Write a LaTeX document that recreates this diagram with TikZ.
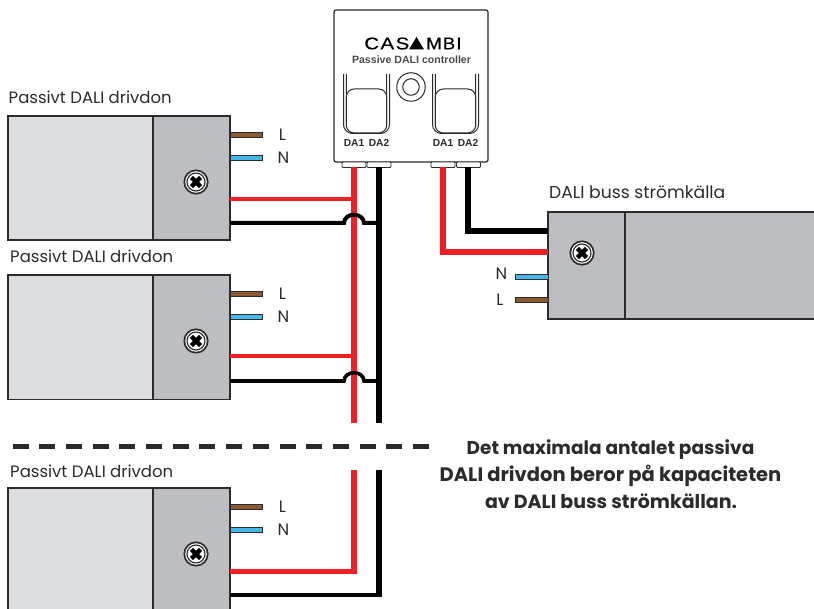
\documentclass[tikz,border=0pt]{standalone}
\usepackage{fontspec}
\setmainfont{Poppins}
\newfontfamily\arialf{Liberation Sans}
\definecolor{boxg}{HTML}{BDBEC1}
\definecolor{boxl}{HTML}{DCDDDF}
\definecolor{wred}{HTML}{EE2027}
\definecolor{wbrown}{HTML}{8C5A2E}
\definecolor{wblue}{HTML}{45B8E8}
\definecolor{ink}{HTML}{2B2B2D}
\usetikzlibrary{calc}
\tikzset{
 panel/.style={draw=ink,line width=1.2pt,inner sep=0pt,outer sep=0pt,anchor=north west},
 stub/.style={draw=ink,line width=1pt,inner sep=0pt,outer sep=0pt,minimum height=4.5pt,anchor=west},
 redw/.style={wred,line width=5.2pt},
 redh/.style={wred,line width=4.2pt},
 blkw/.style={black,line width=5.2pt},
 blkh/.style={black,line width=4.2pt},
 lab/.style={font=\fontsize{16.5}{18}\selectfont,text=ink,inner sep=0pt},
 title/.style={font=\fontsize{16.5}{18}\selectfont,text=ink,inner sep=0pt,anchor=base west},
 daf/.style={font=\arialf\bfseries\fontsize{10.2}{12}\selectfont,text=ink,inner sep=0pt},
 note/.style={text=ink,inner sep=0pt,anchor=base},
 tab/.style={draw=ink,line width=0.8pt,fill=white,inner sep=0pt,outer sep=0pt,anchor=north west,minimum height=5.5pt,rounded corners=1pt},
}
\newcommand{\screwat}[1]{%
 \fill[ink] (#1) circle[radius=12.6pt];
 \fill[white!90!boxg] (#1) circle[radius=10.8pt];
 \draw[ink,line width=1.1pt] (#1) circle[radius=9pt];
 \draw[black,line width=4.4pt] ($(#1)+(-4.6pt,-4.6pt)$)--($(#1)+(4.6pt,4.6pt)$) ($(#1)+(-4.6pt,4.6pt)$)--($(#1)+(4.6pt,-4.6pt)$);
}
\newcommand{\drivernodes}[7]{% name, x0, ytop, height, Lpos, Npos, screwy
 \node[panel,fill=boxl,minimum width=145pt,minimum height=#4pt] (#1a) at (#2,#3) {};
 \node[panel,fill=boxg,minimum width=77pt,minimum height=#4pt] (#1b) at (153,#3) {};
 \node[stub,fill=wbrown,minimum width=32pt] (#1L) at (230,#5) {};
 \node[stub,fill=wblue,minimum width=32pt] (#1N) at (230,#6) {};
 \node[lab] (#1Lt) at (282.5,#5) {L};
 \node[lab] (#1Nt) at (283.5,#6) {N};
 \coordinate (#1s) at (196,#7);
 \screwat{#1s}
}
\begin{document}
\begin{tikzpicture}[x=1pt,y=-1pt]
\useasboundingbox (0,0) rectangle (814,609);
\clip (0,0) rectangle (814,609);

% drivers
\drivernodes{da}{8}{116}{124}{135}{158}{182}
\drivernodes{db}{8}{275}{124.5}{294}{317}{341}
\drivernodes{dc}{8}{488}{130}{507}{530}{554}
\node[title] (ta) at (8.5,104) {Passivt DALI drivdon};
\node[title] (tb) at (10,263) {Passivt DALI drivdon};
\node[title] (tc) at (10,477) {Passivt DALI drivdon};

% controller
\node[panel,fill=white,rounded corners=2pt,minimum width=154pt,minimum height=152pt] (ctrl) at (334,10) {};
\node[tab,minimum width=24pt] (t1) at (342,162) {};
\node[tab,minimum width=24pt] (t2) at (367,162) {};
\node[tab,minimum width=24pt] (t3) at (431,162) {};
\node[tab,minimum width=24pt] (t4) at (456.5,162) {};
\node[font=\arialf\fontsize{17}{19}\selectfont,text=black,inner sep=0pt,anchor=east] (logoa) at (409.5,43.5) {\addfontfeature{LetterSpace=9,FakeStretch=1.2,FakeBold=0.4}CAS};
\node[font=\arialf\fontsize{17}{19}\selectfont,text=black,inner sep=0pt,anchor=west] (logob) at (426,43.5) {\addfontfeature{LetterSpace=6,FakeStretch=1.1,FakeBold=0.4}MBI};
\fill[black] (416.5,37) -- (409,49.5) -- (424,49.5) -- cycle;
\node[font=\arialf\bfseries\fontsize{10.6}{12}\selectfont,text=ink!85,inner sep=0pt] (ptxt) at (411.5,59.5) {Passive DALI controller};
\node[draw=ink,line width=1pt,circle,minimum size=28.5pt,inner sep=0pt] (dial) at (411,87) {};
\node[draw=ink,line width=1pt,circle,minimum size=16.5pt,inner sep=0pt] (dial2) at (411,87) {};
\foreach \x in {343.5,432.5}{
 \draw[ink,line width=1pt,rounded corners=9pt] (\x,74) -- (\x,133.5) -- (\x+46,133.5) -- (\x+46,74);
 \draw[ink,line width=1pt,rounded corners=7pt] (\x+2.8,74) -- (\x+2.8,131) -- (\x+43.2,131) -- (\x+43.2,74);
 \draw[ink,line width=1pt,rounded corners=8pt,fill=white] (\x+2.8,89) rectangle (\x+43.2,133);
}
\node[daf] (l1) at (354,142.5) {DA1};
\node[daf] (l2) at (379,142.5) {DA2};
\node[daf] (l3) at (443,142.5) {DA1};
\node[daf] (l4) at (468,142.5) {DA2};

% PSU
\node[panel,fill=boxg,minimum width=77pt,minimum height=107pt] (pa) at (548,212) {};
\node[panel,fill=boxg,minimum width=200pt,minimum height=107pt] (pb) at (625,212) {};
\node[title,font=\fontsize{17.2}{19}\selectfont] (pt) at (549,199) {DALI buss strömkälla};
\node[stub,fill=wblue,minimum width=33pt] (pN) at (515,277) {};
\node[stub,fill=wbrown,minimum width=33pt] (pL) at (515,300) {};
\node[lab] (pNt) at (501.5,274) {N};
\node[lab] (pLt) at (500,300) {L};
\coordinate (ps) at (582,253);
\screwat{ps}

% bus coordinates
\coordinate (rtop) at (354,167);
\coordinate (ktop) at (379,167);
\coordinate (rend) at (354,423);
\coordinate (kend) at (379,423);
\coordinate (rlow) at (354,470);
\coordinate (klow) at (379,470);
\coordinate (r3) at (354,573.6);
\coordinate (k3) at (379,597);

% buses
\draw[redw] (rtop) -- (rend);
\draw[blkw] (ktop) -- (kend);
\draw[redw] (rlow) -- (r3);
\draw[blkw] (klow) -- (k3);

% driver feeds
\coordinate (ra) at (353,199); \coordinate (rb) at (353,356); \coordinate (rc) at (356.6,571.5); \coordinate (kc) at (381,595);
\draw[redh] (dab.east |- ra) -- (ra);
\draw[redh] (dbb.east |- rb) -- (rb);
\draw[redh] (dcb.east |- rc) -- (rc);
\draw[blkh] (dcb.east |- kc) -- (kc);
\coordinate (ka) at (379,223); \coordinate (kb) at (379,381);
\draw[black,line width=4pt] (dab.east |- ka) -- (344,223) .. controls (344.5,212) and (363.5,212) .. (364,223) -- (ka);
\draw[black,line width=3.6pt] (dbb.east |- kb) -- (344,381) .. controls (344.5,370) and (363.5,370) .. (364,381) -- (kb);

% PSU feeds
\coordinate (pr) at (443,252);
\coordinate (pk) at (468,231);
\draw[redw,line join=miter] (t3.south |- rtop) -- (pr) -- (pa.west |- pr);
\draw[blkw,line join=miter] (468,167) -- (pk) -- (pa.west |- pk);

% separator
\draw[ink,line width=5pt,dash pattern=on 16pt off 10.7pt] (12.5,446) -- (430,446);

% note
\node[note,font=\bfseries\fontsize{18.5}{22}\selectfont] (n1) at (610.5,454) {Det maximala antalet passiva};
\node[note,font=\bfseries\fontsize{19.5}{22}\selectfont] (n2) at (610.5,481.5) {DALI drivdon beror på kapaciteten};
\node[note,font=\bfseries\fontsize{19}{22}\selectfont] (n3) at (611,508) {av DALI buss strömkällan.};
\end{tikzpicture}
\end{document}
